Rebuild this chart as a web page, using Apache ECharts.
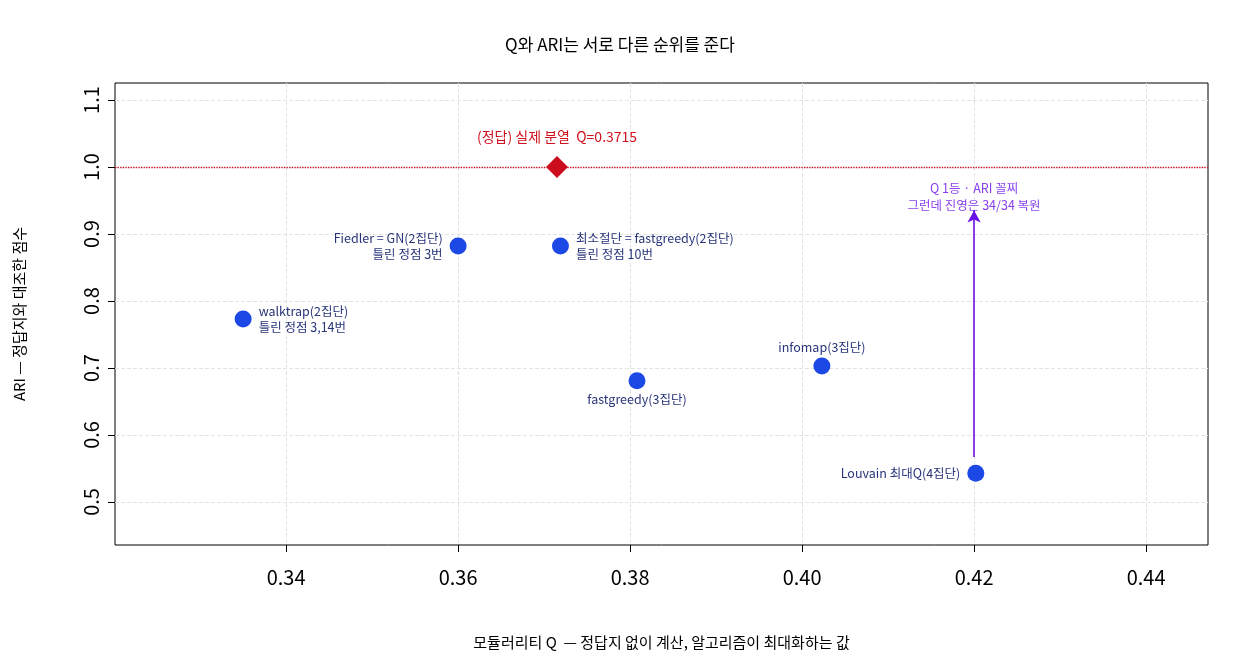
<!DOCTYPE html><html><head><meta charset="utf-8">
<script src="https://cdn.jsdelivr.net/npm/echarts@6/dist/echarts.min.js"></script>
<style>body{margin:0}#c{width:1240px;height:660px}</style></head><body><div id="c"></div>
<script>
const names=['walktrap(2집단)\n틀린 정점 3,14번','Fiedler = GN(2집단)\n틀린 정점 3번','최소절단 = fastgreedy(2집단)\n틀린 정점 10번','fastgreedy(3집단)','infomap(3집단)','Louvain 최대Q(4집단)'];
const qVals=[0.335,0.360,0.3719,0.3808,0.4023,0.4202];
const ariVals=[0.773,0.882,0.882,0.681,0.703,0.543];
const labelPos=['right','left','right','bottom','top','left'];
const truth=[0.3715,1.0];
const arrowFrom=[0.4200,0.567], arrowTo=[0.4200,0.935];
const xTicks=[0.34,0.36,0.38,0.40,0.42,0.44];
const yTicks=[0.5,0.6,0.7,0.8,0.9,1.0,1.1];
const F='"Noto Sans CJK KR", sans-serif';
const chart=echarts.init(document.getElementById('c'));
chart.setOption({
 title:{text:'Q와 ARI는 서로 다른 순위를 준다',left:'center',top:31,textStyle:{fontFamily:F,fontSize:17,fontWeight:'normal',color:'#000'}},
 grid:{left:115,right:32,top:83,bottom:115,show:true,borderColor:'#000',borderWidth:1,backgroundColor:'transparent'},
 xAxis:{type:'value',min:0.3201,max:0.4472,name:'모듈러리티 Q  — 정답지 없이 계산, 알고리즘이 최대화하는 값',nameLocation:'middle',nameGap:90,nameTextStyle:{fontFamily:F,fontSize:15,color:'#000'},
  axisLine:{show:false},axisTick:{show:true,customValues:xTicks,length:7,lineStyle:{color:'#000'}},
  axisLabel:{customValues:xTicks,formatter:v=>v.toFixed(2),fontFamily:F,fontSize:20,color:'#000',margin:22},
  splitLine:{show:true,customValues:xTicks,lineStyle:{type:'dashed',color:'#e3e3e3'}}},
 yAxis:{type:'value',min:0.4358,max:1.1254,name:'ARI — 정답지와 대조한 점수',nameLocation:'middle',nameGap:88,nameTextStyle:{fontFamily:F,fontSize:15,color:'#000'},
  axisLine:{show:false},axisTick:{show:true,customValues:yTicks,length:7,lineStyle:{color:'#000'}},
  axisLabel:{customValues:yTicks,formatter:v=>v.toFixed(1),fontFamily:F,fontSize:20,color:'#000',rotate:90,margin:14},
  splitLine:{show:true,customValues:yTicks,lineStyle:{type:'dashed',color:'#e3e3e3'}}},
 series:[
  {type:'line',symbol:'none',data:[],markLine:{silent:true,symbol:'none',data:[{yAxis:1.0,lineStyle:{type:'dotted',color:'#c8101e',width:1.3}}],label:{show:false}}},
  {type:'scatter',symbolSize:17,itemStyle:{color:'#1c48e6',opacity:1},
   data:qVals.map((q,i)=>({value:[q,ariVals[i]],label:{show:true,formatter:names[i],position:labelPos[i],distance:labelPos[i]==='left'||labelPos[i]==='right'?7:2,align:labelPos[i]==='left'?'right':(labelPos[i]==='right'?'left':'center'),fontFamily:F,fontSize:12.5,color:'#28357a',lineHeight:16}}))},
  {type:'scatter',symbol:'diamond',symbolSize:22,itemStyle:{color:'#cc0d1d',opacity:1},data:[truth],
   label:{show:true,position:'top',distance:12,formatter:'(정답) 실제 분열  Q=0.3715',fontFamily:F,fontSize:14,color:'#d0121e'}},
  {type:'line',symbol:'none',data:[],markLine:{silent:true,symbol:['none','arrow'],symbolSize:[10,12],data:[[{coord:arrowFrom,lineStyle:{type:'solid',color:'#6a10e8',width:1.6}},{coord:arrowTo}]],label:{show:false}}},
  {type:'scatter',symbolSize:0,data:[arrowTo],label:{show:true,position:'top',distance:-3,formatter:'Q 1등 · ARI 꼴찌\n그런데 진영은 34/34 복원',fontFamily:F,fontSize:12.5,lineHeight:17,color:'#6a10e8'}}
 ]
});
</script></body></html>
